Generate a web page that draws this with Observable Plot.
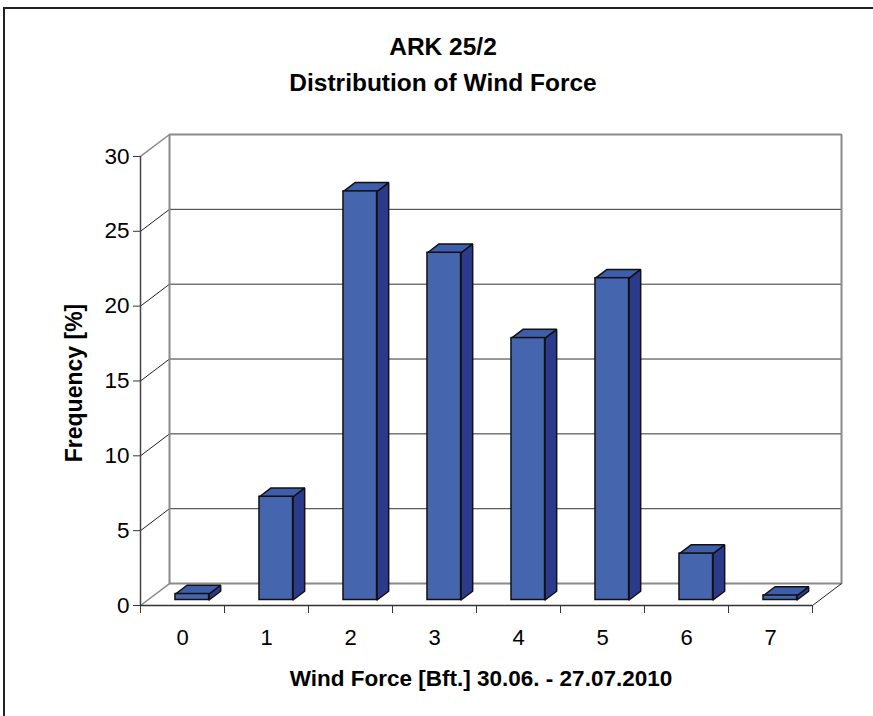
<!DOCTYPE html>
<html>
<head>
<meta charset="utf-8">
<script src="https://cdn.jsdelivr.net/npm/d3@7"></script>
<script src="https://cdn.jsdelivr.net/npm/@observablehq/plot@0.6"></script>
<style>
  html, body { margin: 0; padding: 0; background: white; }
  #wrap { position: relative; width: 873px; height: 716px; overflow: hidden; }
  #border { position: absolute; left: 3px; top: 7px; right: -20px; bottom: -20px;
            border-left: 2px solid #222; border-top: 2px solid #222; pointer-events: none; }
</style>
</head>
<body>
<div id="wrap"><div id="border"></div></div>
<script>
// ---- data ----
const categories = ["0", "1", "2", "3", "4", "5", "6", "7"];
const frequency = [0.4, 6.9, 27.3, 23.2, 17.5, 21.5, 3.1, 0.3];
const yTicks = [0, 5, 10, 15, 20, 25, 30];
const titleLines = ["ARK 25/2", "Distribution of Wind Force"];
const xTitle = "Wind Force [Bft.] 30.06. - 27.07.2010";
const yTitle = "Frequency [%]";

// ---- 3D projection (in data units) ----
const N = categories.length;
const xMin = -0.5, xMax = N - 0.5, yMax = d3.max(yTicks);
const DX = 29 / 84;   // depth shift along x (category units)
const DY = 22 / 15;   // depth shift along y (percent units)
const barHalf = 0.2, barShift = 0.03, dFront = 0.25, dBack = 0.65;
const P = (x, y, d) => ({x: x + d * DX, y: y + d * DY});

const fronts = [], sides = [], tops = [];
frequency.forEach((v, i) => {
  const xl = i + barShift - barHalf, xr = i + barShift + barHalf;
  fronts.push({x1: P(xl, 0, dFront).x, x2: P(xr, 0, dFront).x, y1: P(xl, 0, dFront).y, y2: P(xl, v, dFront).y});
  [P(xr, 0, dFront), P(xr, 0, dBack), P(xr, v, dBack), P(xr, v, dFront), P(xr, 0, dFront)]
    .forEach(p => sides.push({...p, id: i}));
  [P(xl, v, dFront), P(xr, v, dFront), P(xr, v, dBack), P(xl, v, dBack), P(xl, v, dFront)]
    .forEach(p => tops.push({...p, id: i}));
});

const wall = [P(xMin, 0, 1), P(xMin, yMax, 1), P(xMax, yMax, 1), P(xMax, 0, 1), P(xMin, 0, 1)];
const boundaries = d3.range(N + 1).map(i => i - 0.5);
const centers = d3.range(N);

const chart = Plot.plot({
  width: 873, height: 716,
  marginLeft: 140, marginRight: 32, marginTop: 134, marginBottom: 111,
  x: {domain: [xMin, xMax + DX]},
  y: {domain: [0, yMax + DY]},
  style: {fontFamily: "'Liberation Sans', Arial, sans-serif", background: "transparent", color: "black", overflow: "visible"},
  marks: [
    // back wall gridlines
    Plot.ruleY(yTicks.filter(t => t > 0 && t < yMax), {y: t => t + DY, x1: xMin + DX, x2: xMax + DX, stroke: "#333", strokeWidth: 1}),
    // left wall diagonals
    Plot.link(yTicks.filter(t => t > 0 && t < yMax), {x1: xMin, y1: t => t, x2: xMin + DX, y2: t => t + DY, stroke: "#222", strokeWidth: 1}),
    Plot.link([0, yMax], {x1: xMin, y1: t => t, x2: xMin + DX, y2: t => t + DY, stroke: "#8a8a8a", strokeWidth: 1.5}),
    // back wall outline
    Plot.line(wall, {x: "x", y: "y", stroke: "#8a8a8a", strokeWidth: 2, strokeLinecap: "square", strokeLinejoin: "miter"}),
    // floor front edge & right diagonal
    Plot.link([0], {x1: xMax, y1: 0, x2: xMax + DX, y2: DY, stroke: "#222", strokeWidth: 1}),
    Plot.ruleY([0], {x1: xMin, x2: xMax, stroke: "#333", strokeWidth: 1.5}),
    // y axis line
    Plot.ruleX([xMin], {y1: 0, y2: yMax, stroke: "#444", strokeWidth: 1.5}),
    // axes
    Plot.axisY(yTicks, {anchor: "left", tickSize: 7, tickPadding: 4, fontSize: 22.5, label: null, stroke: "#333"}),
    Plot.axisX(boundaries, {anchor: "bottom", tickSize: 8, tickFormat: () => "", label: null, stroke: "#333"}),
    Plot.axisX(centers, {anchor: "bottom", tickSize: 0, tickPadding: 24, tickFormat: i => categories[i], fontSize: 22, label: null}),
    // bars
    Plot.line(sides, {x: "x", y: "y", z: "id", fill: "#2c3a8c", stroke: "#111", strokeWidth: 1.5, strokeLinejoin: "miter"}),
    Plot.line(tops, {x: "x", y: "y", z: "id", fill: "#3e5dab", stroke: "#111", strokeWidth: 1.5, strokeLinejoin: "miter"}),
    Plot.rect(fronts, {x1: "x1", x2: "x2", y1: "y1", y2: "y2", fill: "#4565ae", stroke: "#111", strokeWidth: 1.5}),
    // titles
    Plot.text([titleLines[0]], {frameAnchor: "top", dx: -48, dy: -80, lineAnchor: "bottom", fontSize: 24.5, fontWeight: "bold"}),
    Plot.text([titleLines[1]], {frameAnchor: "top", dx: -48, dy: -44, lineAnchor: "bottom", fontSize: 24.5, fontWeight: "bold"}),
    Plot.text([yTitle], {frameAnchor: "left", dx: -66, dy: 13, rotate: -90, textAnchor: "middle", lineAnchor: "middle", fontSize: 23, fontWeight: "bold"}),
    Plot.text([xTitle], {frameAnchor: "bottom", dx: -10, dy: 80, lineAnchor: "bottom", fontSize: 22.5, fontWeight: "bold"})
  ]
});
document.getElementById("wrap").insertBefore(chart, document.getElementById("border"));
</script>
</body>
</html>
